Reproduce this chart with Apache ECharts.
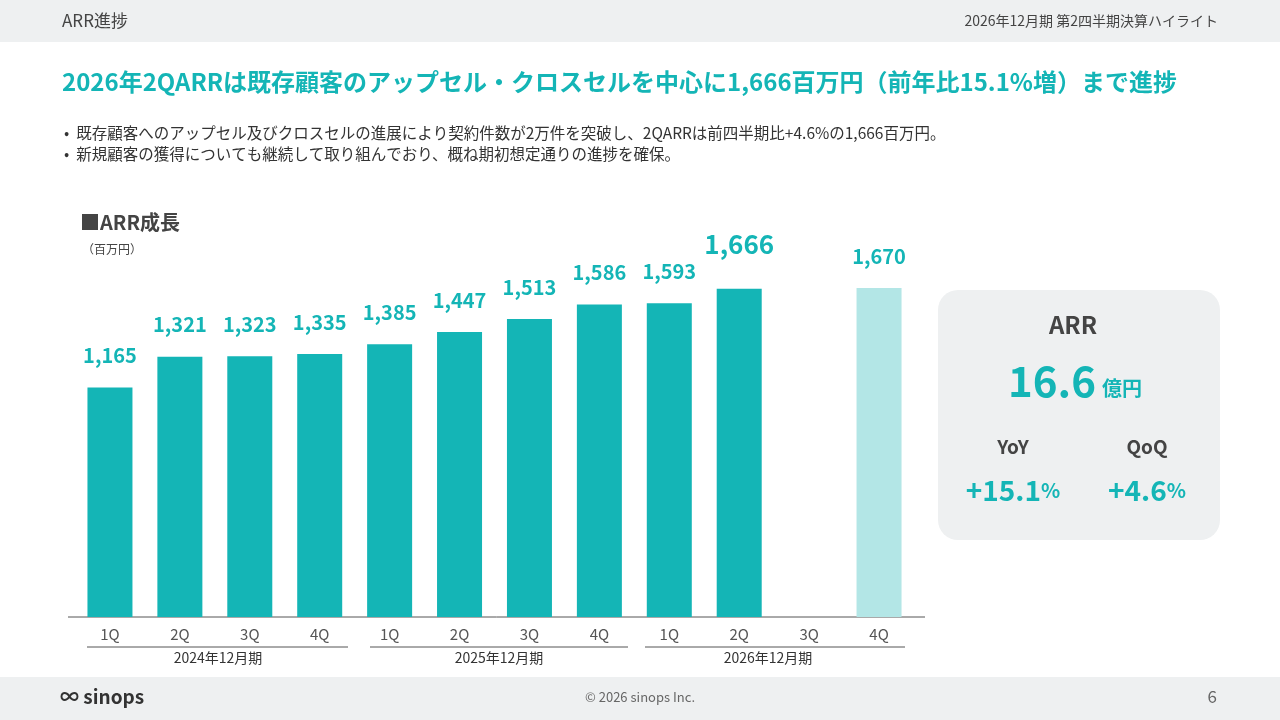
<!DOCTYPE html>
<html><head><meta charset="utf-8">
<script src="https://cdn.jsdelivr.net/npm/echarts@6/dist/echarts.min.js"></script>
<style>html,body{margin:0;padding:0;background:#fff}#c{width:1280px;height:720px}</style>
</head><body><div id="c"></div>
<script>
const quarters = ['1Q','2Q','3Q','4Q','1Q','2Q','3Q','4Q','1Q','2Q','3Q','4Q'];
const arrValues = [1165,1321,1323,1335,1385,1447,1513,1586,1593,1666,null,1670];
const fiscalYears = ['2024年12月期','2025年12月期','2026年12月期'];

const teal = '#14b5b6';
const font = '"Noto Sans CJK JP","Noto Sans",sans-serif';

const barData = arrValues.map((v, i) => {
  if (v == null) return null;
  const item = { value: v };
  if (i === 11) item.itemStyle = { color: '#b3e6e6' };
  if (i === 9) item.label = { fontSize: 26, distance: 32 };
  return item;
});

const chart = echarts.init(document.getElementById('c'));
const groupLine = (x1, x2, y) => ({ type: 'line', shape: { x1, y1: y, x2, y2: y }, style: { stroke: '#555', lineWidth: 1 } });
const txt = (x, y, text, size, color, weight, align) => ({
  type: 'text', x, y, style: { text, fontSize: size, fill: color, fontWeight: weight || 'normal', fontFamily: font, align: align || 'left', verticalAlign: 'middle' }
});
const rich = { a: { fontSize: 28, fontWeight: 'bold', fill: teal, fontFamily: font }, b: { fontSize: 20, fontWeight: 'bold', fill: teal, fontFamily: font } };

chart.setOption({
  animation: false,
  textStyle: { fontFamily: font },
  grid: { left: 75, right: 366, top: 223, bottom: 103 },
  xAxis: {
    type: 'category', data: quarters,
    axisLine: { show: false }, axisTick: { show: false },
    axisLabel: { color: '#555', fontSize: 15, margin: 10 }
  },
  yAxis: { type: 'value', min: 0, max: 2000, show: false, splitLine: { show: false } },
  series: [{
    type: 'bar', data: barData, barWidth: 45,
    itemStyle: { color: teal },
    label: {
      show: true, position: 'top', distance: 22, color: teal, fontSize: 20, fontWeight: 'bold',
      formatter: p => p.value.toLocaleString('en-US')
    }
  }],
  graphic: [
    { type: 'rect', shape: { x: 0, y: 0, width: 1280, height: 42 }, style: { fill: '#eef0f1' } },
    txt(62, 21, 'ARR進捗', 17, '#444'),
    txt(1218, 21, '2026年12月期 第2四半期決算ハイライト', 14, '#444', 'normal', 'right'),
    txt(62, 82, '2026年2QARRは既存顧客のアップセル・クロスセルを中心に1,666百万円（前年比15.1%増）まで進捗', 24, teal, 'bold'),
    txt(64, 133, '•  既存顧客へのアップセル及びクロスセルの進展により契約件数が2万件を突破し、2QARRは前四半期比+4.6%の1,666百万円。', 15.5, '#333'),
    txt(64, 154, '•  新規顧客の獲得についても継続して取り組んでおり、概ね期初想定通りの進捗を確保。', 15.5, '#333'),
    txt(80, 222, '■ARR成長', 20, '#444', 'bold'),
    txt(82, 249, '（百万円）', 12, '#444'),
    groupLine(68, 925, 617),
    groupLine(87, 348, 647), groupLine(370, 628, 647), groupLine(645, 905, 647),
    txt(218, 658, fiscalYears[0], 14, '#333', 'normal', 'center'),
    txt(499, 658, fiscalYears[1], 14, '#333', 'normal', 'center'),
    txt(768, 658, fiscalYears[2], 14, '#333', 'normal', 'center'),
    { type: 'rect', shape: { x: 938, y: 290, width: 282, height: 250, r: 20 }, style: { fill: '#eef0f1' } },
    txt(1073, 325, 'ARR', 24, '#444', 'bold', 'center'),
    txt(1096, 381, '16.6', 42, teal, 'bold', 'right'),
    txt(1102, 388, '億円', 20, teal, 'bold'),
    txt(1013, 447, 'YoY', 19, '#444', 'bold', 'center'),
    txt(1147, 447, 'QoQ', 19, '#444', 'bold', 'center'),
    { type: 'text', x: 1013, y: 490, style: { rich, text: '{a|+15.1}{b|%}', align: 'center', verticalAlign: 'middle' } },
    { type: 'text', x: 1147, y: 490, style: { rich, text: '{a|+4.6}{b|%}', align: 'center', verticalAlign: 'middle' } },
    { type: 'rect', shape: { x: 0, y: 677, width: 1280, height: 43 }, style: { fill: '#eef0f1' } },
    txt(60, 697, '∞ sinops', 19, '#333', 'bold'),
    txt(640, 697, '© 2026 sinops Inc.', 13, '#666', 'normal', 'center'),
    txt(1217, 697, '6', 17, '#666', 'normal', 'right')
  ]
});
</script></body></html>
